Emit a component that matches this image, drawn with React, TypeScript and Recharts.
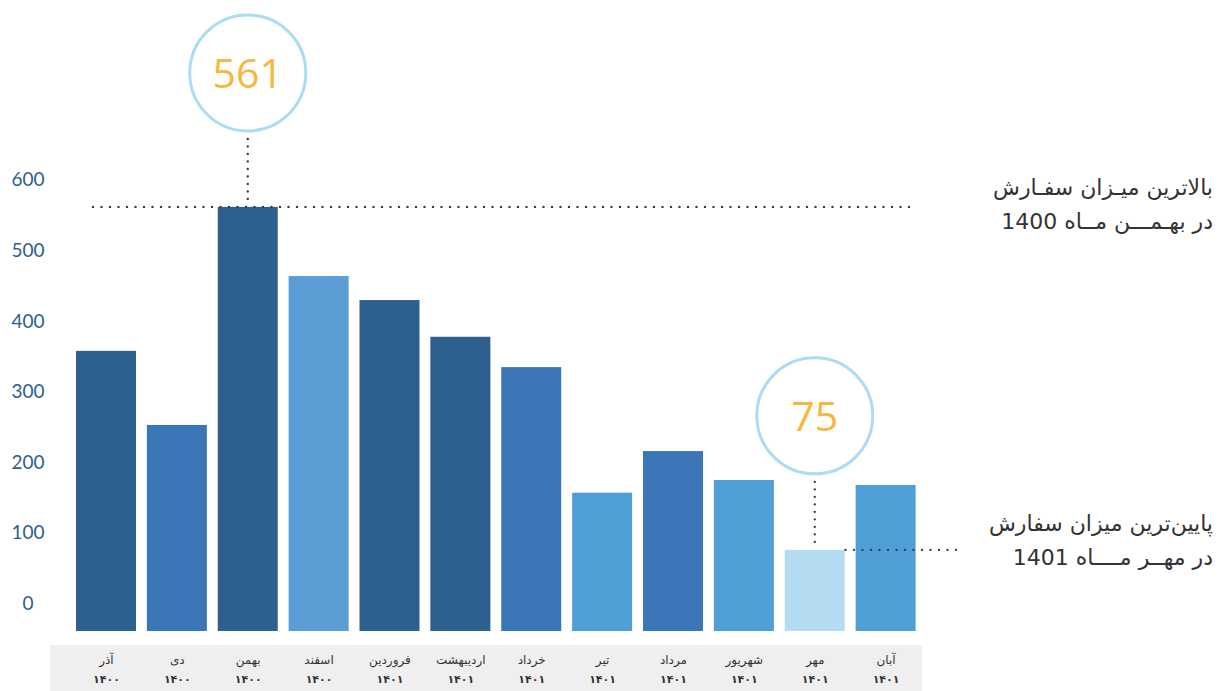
import React from 'react';
import { BarChart, Bar, XAxis, YAxis, ReferenceLine, Cell } from 'recharts';

const months = ['آذر', 'دی', 'بهمن', 'اسفند', 'فروردین', 'اردیبهشت', 'خرداد', 'تیر', 'مرداد', 'شهریور', 'مهر', 'آبان'];
const years = ['۱۴۰۰', '۱۴۰۰', '۱۴۰۰', '۱۴۰۰', '۱۴۰۱', '۱۴۰۱', '۱۴۰۱', '۱۴۰۱', '۱۴۰۱', '۱۴۰۱', '۱۴۰۱', '۱۴۰۱'];
const orders = [357, 252, 561, 463, 429, 377, 334, 156, 215, 174, 75, 167];
const yTicks = [0, 100, 200, 300, 400, 500, 600];
const barColors = ['#2d5f8f', '#3b77b7', '#2d5f8f', '#5b9dd5', '#2d5f8f', '#2d5f8f', '#3b77b7', '#4f9ed6', '#3b77b7', '#4f9ed6', '#b3dbf2', '#4f9ed6'];

const maxText = ['بالاترین میـزان سفـارش', 'در بهـمـــن مــاه 1400'];
const minText = ['پایین‌ترین میزان سفارش', 'در مهــر مــــاه 1401'];

const data = months.map((m, i) => ({ month: m, year: years[i], orders: orders[i] }));
const maxIdx = orders.indexOf(Math.max(...orders));
const minIdx = orders.indexOf(Math.min(...orders));

const DOT = { stroke: '#3a3a3a', strokeWidth: 2.4, strokeLinecap: 'round' as const };

const BarShape = (p: any) => {
  const bottom = p.background ? p.background.y + p.background.height : p.y + p.height;
  return <rect x={p.x} y={p.y} width={p.width} height={Math.max(0, bottom - p.y)} fill={p.fill} />;
};

const renderAnnot = (p: any) => {
  const { x, y, width, index, value } = p;
  if (index !== maxIdx && index !== minIdx) return null;
  const cx = Number(x) + Number(width) / 2;
  const cy = Number(y) - 134;
  return (
    <g>
      <line x1={cx} y1={cy + 66} x2={cx} y2={Number(y) - 7} {...DOT} strokeDasharray="0 7.5" />
      <circle cx={cx} cy={cy} r={58} fill="#fff" stroke="#abdcf1" strokeWidth={3} />
      <text x={cx} y={cy} dy="0.36em" textAnchor="middle" fontSize={41} fill="#f7b73c" fontFamily="Open Sans, sans-serif">
        {value}
      </text>
    </g>
  );
};

const XTick = (p: any) => {
  const { x, y, payload, index } = p;
  const band = 70.875;
  const extraLeft = index === 0 ? 21 : 0;
  return (
    <g>
      <rect x={x - band / 2 - extraLeft} y={y + 14} width={band + extraLeft + 0.5} height={46} fill="#efefef" />
      <text x={x} y={y + 33} textAnchor="middle" fontSize={12} fill="#333" fontFamily="DejaVu Sans, sans-serif">
        {payload.value}
      </text>
      <text x={x} y={y + 52} textAnchor="middle" fontSize={11} fill="#333" fontWeight="bold" letterSpacing={3} fontFamily="DejaVu Sans, sans-serif">
        {years[index]}
      </text>
    </g>
  );
};

const YTick = (p: any) => {
  const { x, y, payload } = p;
  return (
    <text x={x - 43} y={y} dy={7} textAnchor="middle" fontSize={19} fill="#2e5f8f" fontFamily="Lato, sans-serif">
      {payload.value}
    </text>
  );
};

const MaxLine = (p: any) => {
  const { x1, x2, y1 } = p;
  return <line x1={x1 + 22} y1={y1} x2={x2 - 6} y2={y1} {...DOT} strokeDasharray="0 8.5" />;
};

const MinLine = (p: any) => {
  const { x2, y1 } = p;
  return <line x1={x2 - 76} y1={y1} x2={x2 + 40} y2={y1} {...DOT} strokeDasharray="0 8.5" />;
};

const textStyle: React.CSSProperties = {
  position: 'absolute',
  right: 13,
  direction: 'rtl',
  textAlign: 'right',
  fontFamily: 'DejaVu Sans, sans-serif',
  fontSize: 22,
  lineHeight: '34px',
  color: '#333',
  whiteSpace: 'nowrap',
};

export default function App() {
  return (
    <div style={{ position: 'absolute', left: 0, top: 0, width: 1226, height: 691, background: '#fff' }}>
      <BarChart width={1226} height={691} data={data} margin={{ top: 3, right: 304.5, bottom: 0, left: 0 }} barSize={60}>
        <YAxis
          width={71}
          domain={[-40, 850]}
          ticks={yTicks}
          axisLine={false}
          tickLine={false}
          tickSize={0}
          tickMargin={0}
          tick={<YTick />}
          allowDataOverflow
        />
        <XAxis
          dataKey="month"
          height={60}
          axisLine={false}
          tickLine={false}
          tickSize={0}
          tickMargin={0}
          interval={0}
          tick={<XTick />}
        />
        <ReferenceLine y={orders[maxIdx]} shape={<MaxLine />} />
        <ReferenceLine y={orders[minIdx]} shape={<MinLine />} />
        <Bar dataKey="orders" isAnimationActive={false} shape={<BarShape />} label={renderAnnot}>
          {data.map((d, i) => (
            <Cell key={d.month} fill={barColors[i]} />
          ))}
        </Bar>
      </BarChart>
      <div style={{ ...textStyle, top: 171 }}>
        <div>{maxText[0]}</div>
        <div>{maxText[1]}</div>
      </div>
      <div style={{ ...textStyle, top: 507 }}>
        <div>{minText[0]}</div>
        <div>{minText[1]}</div>
      </div>
    </div>
  );
}
